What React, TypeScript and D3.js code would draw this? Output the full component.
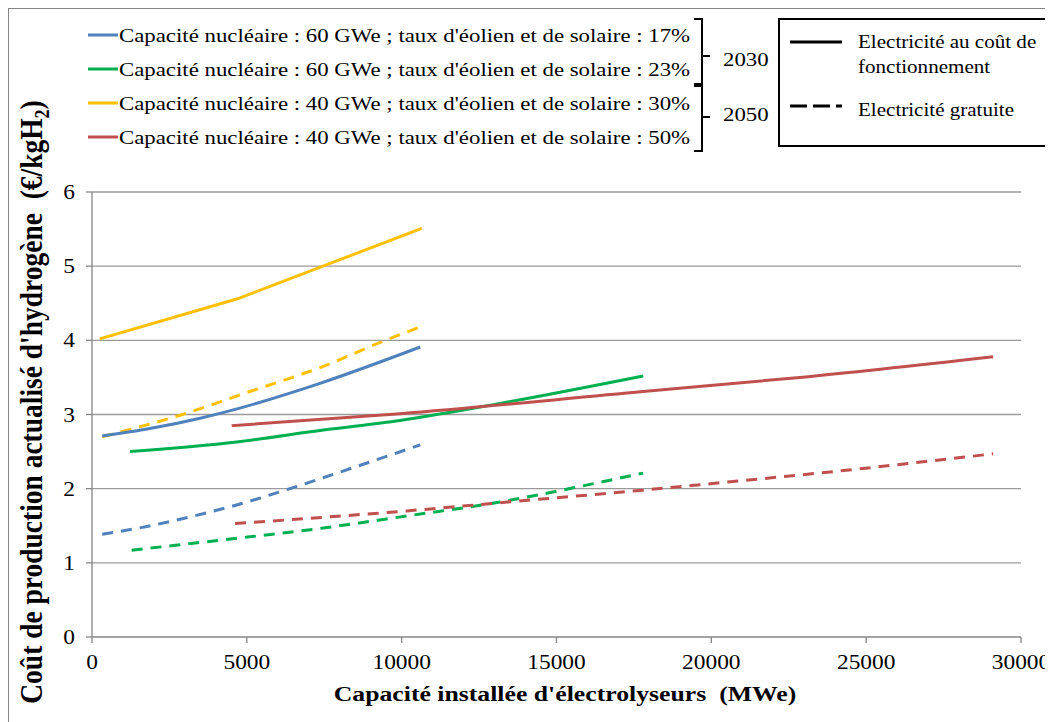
import React from "react";
import * as d3 from "d3";

type Pt = [number, number];

const xTicks = [0, 5000, 10000, 15000, 20000, 25000, 30000];
const yTicks = [0, 1, 2, 3, 4, 5, 6];

const blueSolid: Pt[] = [[330, 2.71], [1870, 2.81], [3490, 2.95], [4890, 3.1], [7360, 3.42], [10600, 3.91]];
const blueDashed: Pt[] = [[330, 1.385], [1770, 1.49], [3170, 1.62], [4670, 1.78], [6390, 2.0], [8550, 2.3], [10600, 2.59]];
const greenSolid: Pt[] = [[1230, 2.5], [4670, 2.63], [7470, 2.79], [9950, 2.92], [13180, 3.15], [17800, 3.52]];
const greenDashed: Pt[] = [[1280, 1.17], [4240, 1.31], [7470, 1.47], [10300, 1.64], [13180, 1.82], [15760, 2.03], [17800, 2.21]];
const yellowSolid: Pt[] = [[250, 4.02], [4700, 4.56], [10650, 5.51]];
const yellowDashed: Pt[] = [[330, 2.7], [2840, 2.99], [5100, 3.31], [7470, 3.65], [9410, 3.99], [10660, 4.19]];
const redSolid: Pt[] = [[4510, 2.85], [9950, 3.01], [17800, 3.31], [22860, 3.5], [29100, 3.78]];
const redDashed: Pt[] = [[4620, 1.53], [10160, 1.7], [14240, 1.85], [17800, 1.98], [19800, 2.06], [23940, 2.23], [29100, 2.47]];

const seriesLabels = [
  "Capacité nucléaire : 60 GWe ; taux d'éolien et de solaire : 17%",
  "Capacité nucléaire : 60 GWe ; taux d'éolien et de solaire : 23%",
  "Capacité nucléaire : 40 GWe ; taux d'éolien et de solaire : 30%",
  "Capacité nucléaire : 40 GWe ; taux d'éolien et de solaire : 50%",
];
const colors = ["#4F81BD", "#00B050", "#FFC000", "#C0504D"];
const yearLabels = ["2030", "2050"];
const styleLabels = ["Electricité au coût de", "fonctionnement", "Electricité gratuite"];

const lines = [
  { data: yellowSolid, color: 2, dashed: false, smooth: false },
  { data: yellowDashed, color: 2, dashed: true, smooth: true },
  { data: blueSolid, color: 0, dashed: false, smooth: true },
  { data: blueDashed, color: 0, dashed: true, smooth: true },
  { data: greenSolid, color: 1, dashed: false, smooth: true },
  { data: greenDashed, color: 1, dashed: true, smooth: true },
  { data: redSolid, color: 3, dashed: false, smooth: true },
  { data: redDashed, color: 3, dashed: true, smooth: true },
];

const FONT = "'Liberation Serif', 'Times New Roman', serif";
const SX = 1.17;

function T(props: {
  x: number;
  y: number;
  size: number;
  anchor?: string;
  weight?: string;
  children: React.ReactNode;
}) {
  return (
    <text
      transform={`translate(${props.x},${props.y}) scale(${SX},1)`}
      textAnchor={props.anchor || "start"}
      fontSize={props.size}
      fontWeight={props.weight || "normal"}
      dy="0.35em"
    >
      {props.children}
    </text>
  );
}

export default function App() {
  const x = d3.scaleLinear().domain([0, 30000]).range([92, 1021]);
  const y = d3.scaleLinear().domain([0, 6]).range([637, 192]);
  const smoothLine = d3
    .line<Pt>()
    .x((d) => x(d[0]))
    .y((d) => y(d[1]))
    .curve(d3.curveMonotoneX);
  const straightLine = d3
    .line<Pt>()
    .x((d) => x(d[0]))
    .y((d) => y(d[1]));

  const rowY = [35, 69, 103, 137];

  return (
    <svg width={1045} height={714} style={{ display: "block" }} fontFamily={FONT}>
      <g transform="translate(-8,-8)">
        {/* outer frame */}
        <rect x={8.5} y={8.5} width={1100} height={800} fill="#fff" stroke="#868686" strokeWidth={1} />

        {/* gridlines */}
        {yTicks.filter((t) => t > 0).map((t) => (
          <line key={t} x1={x(0)} x2={x(30000)} y1={y(t)} y2={y(t)} stroke="#9a9a9a" strokeWidth={1.3} />
        ))}
        {/* axes */}
        <line x1={x(0)} x2={x(0)} y1={y(6)} y2={y(0)} stroke="#868686" strokeWidth={1.3} />
        <line x1={x(0)} x2={x(30000)} y1={y(0)} y2={y(0)} stroke="#868686" strokeWidth={1.3} />
        {yTicks.map((t) => (
          <g key={t}>
            <line x1={x(0) - 6} x2={x(0)} y1={y(t)} y2={y(t)} stroke="#868686" strokeWidth={1.3} />
            <T x={75} y={y(t)} size={20} anchor="end">{t}</T>
          </g>
        ))}
        {xTicks.map((t) => (
          <g key={t}>
            <line x1={x(t)} x2={x(t)} y1={y(0)} y2={y(0) + 6} stroke="#868686" strokeWidth={1.3} />
            <T x={x(t)} y={662} size={20} anchor="middle">{t}</T>
          </g>
        ))}

        {/* data lines */}
        {lines.map((l, i) => (
          <path
            key={i}
            d={(l.smooth ? smoothLine(l.data) : straightLine(l.data)) || ""}
            fill="none"
            stroke={colors[l.color]}
            strokeWidth={3}
            strokeDasharray={l.dashed ? "11,8" : undefined}
          />
        ))}

        {/* axis titles */}
        <T x={565} y={693} size={22} anchor="middle" weight="bold">
          Capacité installée d'électrolyseurs{"\u00a0\u00a0"}(MWe)
        </T>
        <text
          transform={`translate(42,402) scale(${SX},1) rotate(-90)`}
          textAnchor="middle"
          fontSize={27.5}
          fontWeight="bold"
        >
          Coût de production actualisé d'hydrogène{"\u00a0\u00a0"}(€/kgH<tspan fontSize={18} dy={6}>2</tspan><tspan dy={-6}>)</tspan>
        </text>

        {/* series legend */}
        {seriesLabels.map((s, i) => (
          <g key={i}>
            <line x1={88} x2={118} y1={rowY[i]} y2={rowY[i]} stroke={colors[i]} strokeWidth={3} />
            <T x={119} y={rowY[i]} size={19.5}>{s}</T>
          </g>
        ))}

        {/* braces */}
        <path d="M694,19 L702,19 L702,84 L694,84 M702,56 L710,56" fill="none" stroke="#000" strokeWidth={2} />
        <path d="M694,86 L702,86 L702,151 L694,151 M702,117 L710,117" fill="none" stroke="#000" strokeWidth={2} />
        <T x={723} y={59} size={19.5}>{yearLabels[0]}</T>
        <T x={723} y={114} size={19.5}>{yearLabels[1]}</T>

        {/* style legend */}
        <rect x={779} y={19} width={271} height={127} fill="#fff" stroke="#000" strokeWidth={2} />
        <line x1={790} x2={842} y1={42} y2={42} stroke="#000" strokeWidth={3} />
        <line x1={790} x2={842} y1={106} y2={106} stroke="#000" strokeWidth={3} strokeDasharray="17,6" />
        <T x={858} y={42} size={18}>{styleLabels[0]}</T>
        <T x={858} y={67} size={18}>{styleLabels[1]}</T>
        <T x={858} y={110} size={18}>{styleLabels[2]}</T>
      </g>
    </svg>
  );
}
